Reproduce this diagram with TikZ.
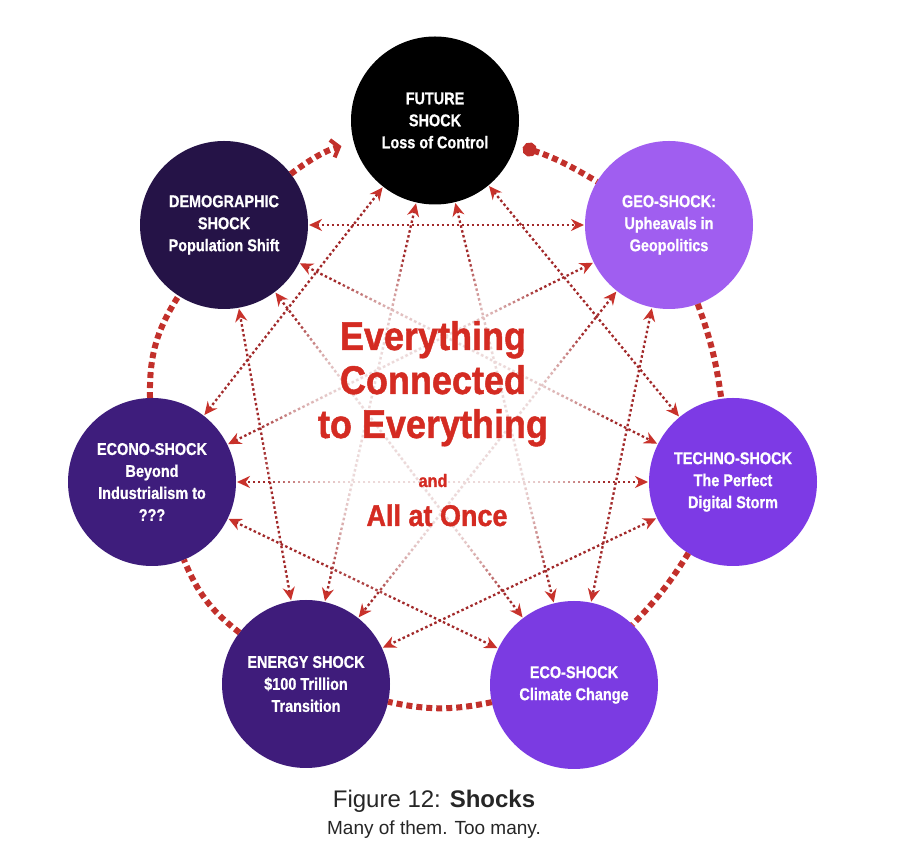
\documentclass[tikz,border=0pt]{standalone}
\usepackage{fontspec}
\setmainfont{Liberation Sans}
\newfontfamily\condfont[FakeStretch=0.85, BoldFeatures={FakeBold=0.8}]{Liberation Sans}
\newfontfamily\bigcond[FakeStretch=0.9, BoldFeatures={FakeBold=1.2}]{Liberation Sans}
\usetikzlibrary{arrows.meta,backgrounds}
\definecolor{ringred}{HTML}{C2302B}
\definecolor{chordred}{HTML}{A2292A}
\definecolor{tipred}{HTML}{C8322B}
\definecolor{titlered}{HTML}{D42B22}
\definecolor{cFuture}{HTML}{000000}
\definecolor{cGeo}{HTML}{A05EF0}
\definecolor{cTechno}{HTML}{7D3AE5}
\definecolor{cEco}{HTML}{7B3BE2}
\definecolor{cEnergy}{HTML}{3F1C7B}
\definecolor{cEcono}{HTML}{3E1D7C}
\definecolor{cDemo}{HTML}{251347}
\begin{document}
\begin{tikzpicture}[x=1pt,y=1pt,
  shock/.style={circle, minimum size=168pt, inner sep=0pt, outer sep=0pt, text=white,
    font=\condfont\bfseries\fontsize{17}{22}\selectfont, align=center},
  chord/.style={draw=chordred, line width=2.3pt, dash pattern=on 2.5pt off 2.5pt,
    {Stealth[length=13pt,width=12pt,color=tipred]}-{Stealth[length=13pt,width=12pt,color=tipred]},
    shorten <=1pt, shorten >=1pt},
  ring/.style={draw=ringred, line width=6pt, dash pattern=on 6pt off 4pt},
  bigtxt/.style={text=titlered, font=\bigcond\bfseries\fontsize{40}{44}\selectfont, anchor=base},
  captxt/.style={text=black!85, anchor=base}]
\useasboundingbox (0,0) rectangle (906,862);

\node[shock, fill=cFuture] (future) at (435,741.5) {FUTURE\\SHOCK\\Loss of Control};
\node[shock, fill=cGeo] (geo) at (669,637) {GEO-SHOCK:\\Upheavals in\\Geopolitics};
\node[shock, fill=cTechno] (techno) at (733,380) {TECHNO-SHOCK\\The Perfect\\Digital Storm};
\node[shock, fill=cEco] (eco) at (574,177) {ECO-SHOCK\\Climate Change};
\node[shock, fill=cEnergy] (energy) at (306,178) {ENERGY SHOCK\\\$100 Trillion\\Transition};
\node[shock, fill=cEcono] (econo) at (152,380) {ECONO-SHOCK\\Beyond\\Industrialism to\\???};
\node[shock, fill=cDemo] (demo) at (224,637) {DEMOGRAPHIC\\SHOCK\\Population Shift};

\begin{scope}[on background layer]
  \fill[white] (0,0) rectangle (906,862);
  % step-2 chords
  \draw[chord] (future) -- (techno);
  \draw[chord] (geo) -- (eco);
  \draw[chord] (techno) -- (energy);
  \draw[chord] (eco) -- (econo);
  \draw[chord] (energy) -- (demo);
  \draw[chord] (econo) -- (future);
  \draw[chord] (demo) -- (geo);
  % step-3 chords
  \draw[chord] (future) -- (eco);
  \draw[chord] (geo) -- (energy);
  \draw[chord] (techno) -- (econo);
  \draw[chord] (eco) -- (demo);
  \draw[chord] (energy) -- (future);
  \draw[chord] (econo) -- (geo);
  \draw[chord] (demo) -- (techno);
  % soft white glow in the middle
  \foreach \r in {100,106,...,172}
    \fill[white, opacity=0.13] (435,432) circle (\r);
\end{scope}

% outer ring
\draw[ring, -{Straight Barb[length=7pt,width=18pt,line width=4pt]}, shorten >=13pt]
  (demo) to[bend left=11] (future);
\draw[ring, {Circle[length=14pt]}-, shorten <=8pt] (future) to[bend left=7] (geo);
\draw[ring] (geo) to[bend left=6] (techno);
\draw[ring] (techno) to[bend left=6] (eco);
\draw[ring] (eco) to[bend left=12] (energy);
\draw[ring] (energy) to[bend left=15] (econo);
\draw[ring] (econo) to[bend left=17] (demo);

% centre text
\node[bigtxt] (t1) at (433,512) {Everything};
\node[bigtxt] (t2) at (433,468) {Connected};
\node[bigtxt] (t3) at (433,424) {to Everything};
\node[bigtxt, font=\bigcond\bfseries\fontsize{18}{20}\selectfont] (t4) at (433,375) {and};
\node[bigtxt, font=\bigcond\bfseries\fontsize{30}{34}\selectfont] (t5) at (437,336) {All at Once};

% caption
\node[captxt, font=\fontsize{24}{28}\selectfont] (cap1) at (434,54) {Figure 12: \textbf{Shocks}};
\node[captxt, font=\fontsize{19}{22}\selectfont] (cap2) at (434,27) {Many of them. Too many.};
\end{tikzpicture}
\end{document}
